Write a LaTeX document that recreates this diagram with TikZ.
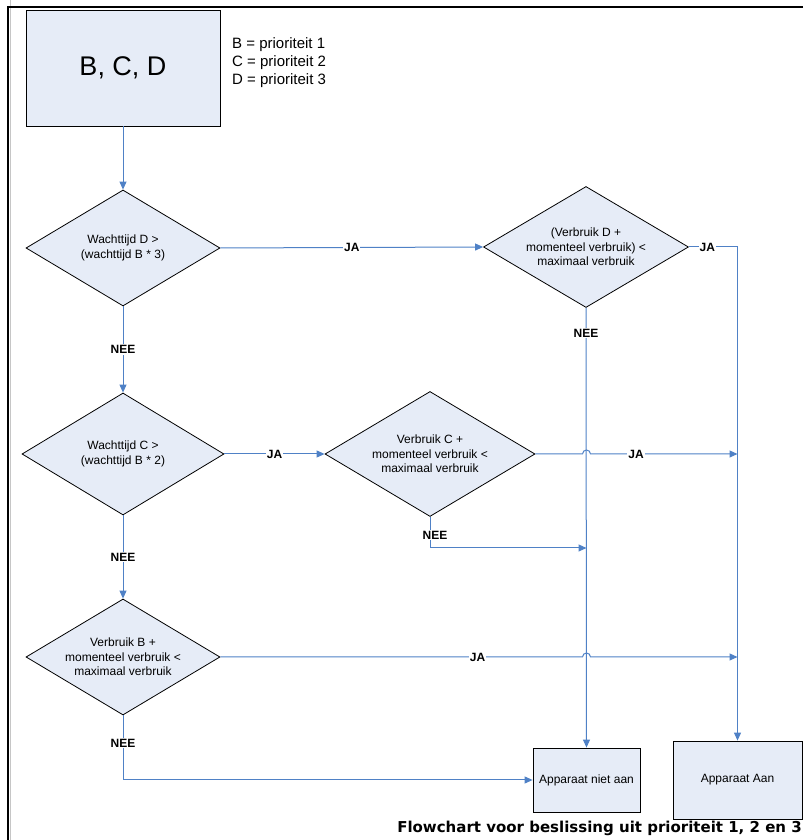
\documentclass[tikz,border=0pt]{standalone}
\usepackage{fontspec}
\setmainfont{Liberation Sans}
\newfontfamily\verdanalike{DejaVu Sans}
\usetikzlibrary{shapes.geometric, arrows.meta}
\definecolor{lineblue}{HTML}{4F81C6}
\definecolor{boxfill}{HTML}{E6ECF7}

\begin{document}
\begin{tikzpicture}[x=1pt, y=1pt,
    box/.style={draw=black, fill=boxfill, line width=0.8pt, inner sep=0pt},
    choice/.style={diamond, draw=black, fill=boxfill, line width=0.8pt, inner sep=0pt,
        aspect=1.67, align=center, font=\fontsize{12}{14.5}\selectfont},
    flow/.style={draw=lineblue, line width=1pt, -{Triangle[length=8pt, width=7pt]}},
    answer/.style={fill=white, inner sep=1pt, font=\fontsize{12}{14}\selectfont\bfseries}]
    \useasboundingbox (0,0) rectangle (803,840);

    % Frame
    \draw[gray!45, line width=1pt] (10.5,840) -- (10.5,0);
    \draw[line width=1.3pt] (803,833) -- (8,833) -- (8,0);

    % Start box and legend
    \node[box, minimum width=194pt, minimum height=116pt, font=\fontsize{27}{30}\selectfont] (bcd) at (123,772) {B, C, D};
    \node[align=left, anchor=west, inner sep=0pt, font=\fontsize{15}{18}\selectfont] (legend) at (232,777)
        {B = prioriteit 1\\C = prioriteit 2\\D = prioriteit 3};

    % Decisions
    \node[choice, minimum width=194pt, minimum height=116pt] (waitD) at (123,592) {Wachttijd D >\\(wachttijd B * 3)};
    \node[choice, minimum width=205pt, minimum height=121pt] (useD) at (586,593) {(Verbruik D +\\momenteel verbruik) <\\maximaal verbruik};
    \node[choice, minimum width=202pt, minimum height=122pt] (waitC) at (123,386) {Wachttijd C >\\(wachttijd B * 2)};
    \node[choice, minimum width=210pt, minimum height=125pt] (useC) at (430,386) {Verbruik C +\\momenteel verbruik <\\maximaal verbruik};
    \node[choice, minimum width=194pt, minimum height=116pt] (useB) at (123,183) {Verbruik B +\\momenteel verbruik <\\maximaal verbruik};

    % End states
    \node[box, minimum width=107pt, minimum height=64pt, font=\fontsize{12}{14}\selectfont] (off) at (586.5,60) {Apparaat niet aan};
    \node[box, minimum width=129pt, minimum height=78pt, font=\fontsize{12}{14}\selectfont] (on) at (737.5,60) {Apparaat Aan};
    \coordinate (joinC) at (off.north |- 0,292);

    \node[anchor=base east, inner sep=0pt, font=\verdanalike\fontsize{15}{18}\selectfont\bfseries] (title) at (802,7)
        {Flowchart voor beslissing uit prioriteit 1, 2 en 3};

    % Connectors
    \draw[flow] (bcd.south) -- (waitD.north);
    \draw[flow] (waitD.east) -- node[answer] {JA} (useD.west);
    \draw[flow] (useD.east) -| node[answer, pos=0.19] {JA} (on.north);
    \draw[flow] (useD.south) -- node[answer, pos=0.057] {NEE} (off.north);
    \draw[flow] (waitD.south) -- node[answer] {NEE} (waitC.north);
    \draw[flow] (waitC.east) -- node[answer] {JA} (useC.west);
    \draw[flow] (useC.east) -- ([xshift=-4pt]useC.east -| off.north) arc[start angle=180, end angle=0, radius=4pt]
        -- node[answer, pos=0.31] {JA} (useC.east -| on.north);
    \draw[flow] (useC.south) |- node[answer, pos=0.29, xshift=5pt] {NEE} (joinC);
    \draw[flow] (waitC.south) -- node[answer] {NEE} (useB.north);
    \draw[flow] (useB.east) -- node[answer, pos=0.71] {JA} ([xshift=-4pt]useB.east -| off.north)
        arc[start angle=180, end angle=0, radius=4pt] -- (useB.east -| on.north);
    \draw[flow] (useB.south) |- node[answer, pos=0.215] {NEE} (off.west);
\end{tikzpicture}
\end{document}
